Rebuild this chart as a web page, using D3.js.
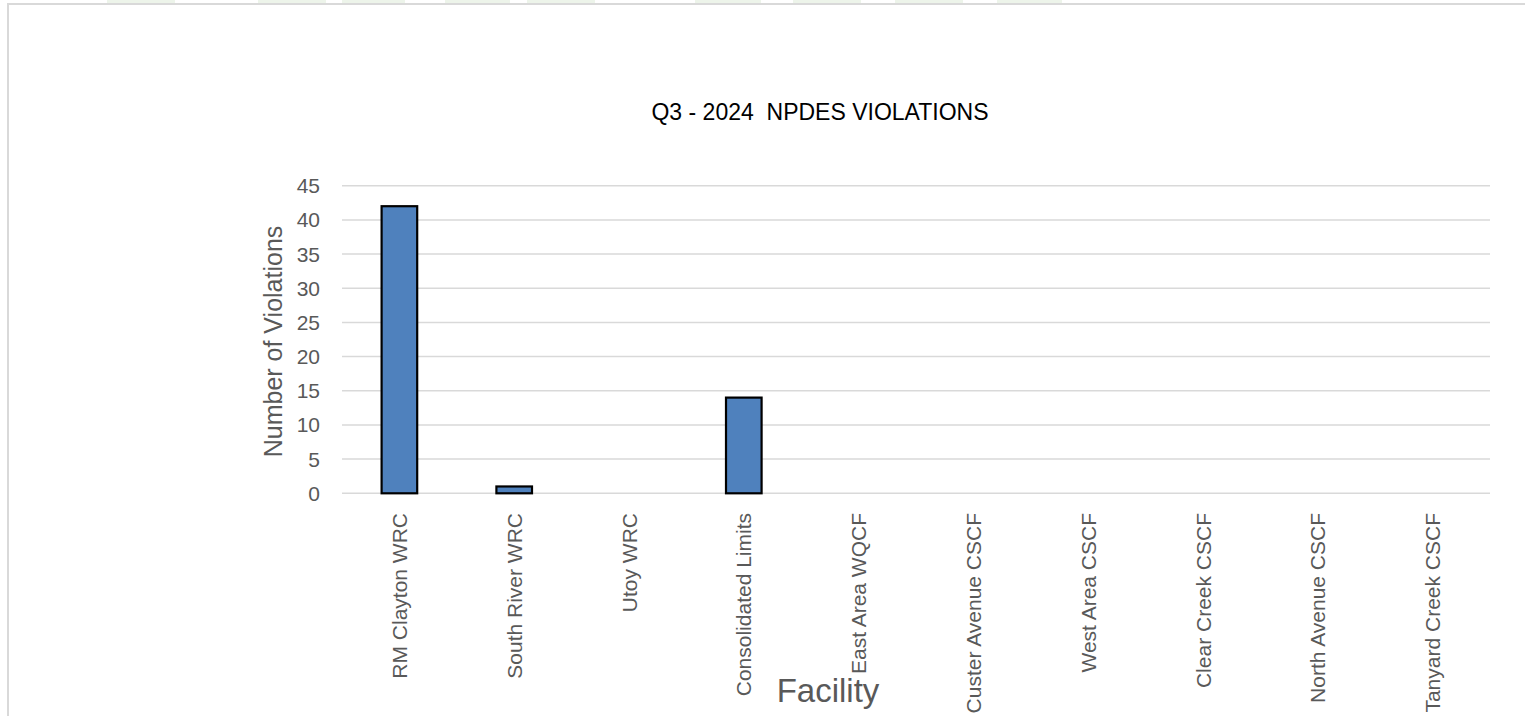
<!DOCTYPE html>
<html>
<head>
<meta charset="utf-8">
<script src="https://cdn.jsdelivr.net/npm/d3@7"></script>
<style>
  html, body { margin: 0; padding: 0; background: #fff; }
  svg { display: block; font-family: "Liberation Sans", Arial, sans-serif; }
</style>
</head>
<body>
<svg id="chart" width="1525" height="716"></svg>
<script>
// facilities and the quarter's violation counts
var facilities = ["RM Clayton WRC", "South River WRC", "Utoy WRC", "Consolidated Limits",
  "East Area WQCF", "Custer Avenue CSCF", "West Area CSCF", "Clear Creek CSCF",
  "North Avenue CSCF", "Tanyard Creek CSCF"];
var violations = [42, 1, 0, 14, 0, 0, 0, 0, 0, 0];
var yTicks = [0, 5, 10, 15, 20, 25, 30, 35, 40, 45];
var chartTitle = "Q3 - 2024  NPDES VIOLATIONS";
var yTitle = "Number of Violations";
var xTitle = "Facility";

// slide background strip peeking above the chart frame
var stripBlocks = [[107, 175], [258, 326], [342, 405], [445, 510], [527, 595],
  [695, 761], [793, 861], [895, 963], [997, 1062]];

var svg = d3.select("#chart");
var grey = "#595959";

svg.append("g").selectAll("rect")
  .data(stripBlocks)
  .enter().append("rect")
    .attr("x", function(d) { return d[0]; })
    .attr("y", 0)
    .attr("width", function(d) { return d[1] - d[0]; })
    .attr("height", 3)
    .attr("fill", "#edf4ea");

// chart frame (only top + left visible)
svg.append("path")
  .attr("d", "M8,716V4H1525")
  .attr("fill", "none")
  .attr("stroke", "#d9d9d9")
  .attr("stroke-width", 2);

var x = d3.scaleBand()
  .domain(facilities)
  .range([342, 1490])
  .paddingInner(0.69)
  .paddingOuter(0.345);

var y = d3.scaleLinear()
  .domain([0, 45])
  .range([493.3, 185.7]);

// gridlines
svg.append("g").selectAll("line")
  .data(yTicks)
  .enter().append("line")
    .attr("x1", 342)
    .attr("x2", 1490)
    .attr("y1", function(d) { return y(d); })
    .attr("y2", function(d) { return y(d); })
    .attr("stroke", "#d9d9d9")
    .attr("stroke-width", 1.5);

// y tick labels
svg.append("g").selectAll("text")
  .data(yTicks)
  .enter().append("text")
    .attr("x", 320)
    .attr("y", function(d) { return y(d) + 7.5; })
    .attr("text-anchor", "end")
    .attr("fill", grey)
    .style("font-size", "21px")
    .text(function(d) { return d; });

// bars (zero counts draw nothing)
var data = facilities.map(function(f, i) { return { name: f, value: violations[i] }; });
svg.append("g").selectAll("rect")
  .data(data.filter(function(d) { return d.value > 0; }))
  .enter().append("rect")
    .attr("x", function(d) { return x(d.name); })
    .attr("y", function(d) { return y(d.value); })
    .attr("width", x.bandwidth())
    .attr("height", function(d) { return y(0) - y(d.value); })
    .attr("fill", "#4f81bd")
    .attr("stroke", "#000")
    .attr("stroke-width", 2.2);

// x tick labels, rotated
svg.append("g").selectAll("text")
  .data(facilities)
  .enter().append("text")
    .attr("transform", function(d) {
      return "translate(" + (x(d) + x.bandwidth() / 2 + 7.5) + ",513) rotate(-90)";
    })
    .attr("text-anchor", "end")
    .attr("fill", grey)
    .style("font-size", "21px")
    .text(function(d) { return d; });

// titles
svg.append("text")
  .attr("x", 820)
  .attr("y", 120)
  .attr("text-anchor", "middle")
  .attr("fill", "#000")
  .style("font-size", "23px")
  .style("white-space", "pre")
  .text(chartTitle);

svg.append("text")
  .attr("transform", "translate(282,341.5) rotate(-90)")
  .attr("text-anchor", "middle")
  .attr("fill", grey)
  .style("font-size", "25px")
  .text(yTitle);

svg.append("text")
  .attr("x", 828)
  .attr("y", 702)
  .attr("text-anchor", "middle")
  .attr("fill", grey)
  .style("font-size", "33px")
  .text(xTitle);
</script>
</body>
</html>
